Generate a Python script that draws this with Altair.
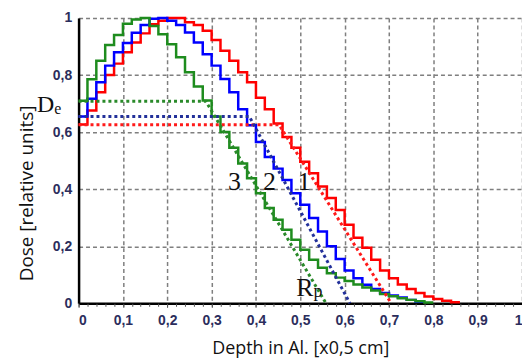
import altair as alt
import pandas as pd

# ---------------- data ----------------
STEP = 0.02  # histogram bin width (depth units)

# curve 1 (red), 2 (blue), 3 (green): dose per depth bin starting at 0
red_dose = [0.627, 0.676, 0.74, 0.80, 0.84, 0.88, 0.914, 0.946, 0.978, 0.99,
            1.0, 1.0, 0.985, 0.975, 0.955, 0.923, 0.885, 0.85, 0.81, 0.775,
            0.72, 0.68, 0.63, 0.583, 0.545, 0.496, 0.456, 0.409, 0.369, 0.327,
            0.275, 0.23, 0.195, 0.153, 0.115, 0.088, 0.066, 0.05, 0.036, 0.024,
            0.015, 0.009, 0.004]
blue_dose = [0.655, 0.717, 0.775, 0.833, 0.88, 0.912, 0.948, 0.975, 0.997, 1.0,
             0.99, 0.975, 0.949, 0.914, 0.873, 0.833, 0.786, 0.74, 0.68, 0.624,
             0.565, 0.513, 0.472, 0.432, 0.386, 0.345, 0.299, 0.252, 0.20, 0.155,
             0.115, 0.088, 0.065, 0.05, 0.036, 0.027, 0.02, 0.012, 0.005]
green_dose = [0.71, 0.785, 0.85, 0.905, 0.94, 0.98, 0.995, 1.0, 0.972, 0.943,
              0.908, 0.862, 0.81, 0.76, 0.711, 0.655, 0.60, 0.545, 0.49, 0.438,
              0.386, 0.334, 0.293, 0.258, 0.223, 0.188, 0.153, 0.125, 0.105, 0.09,
              0.078, 0.066, 0.055, 0.045, 0.033, 0.025, 0.018, 0.012, 0.007, 0.003]

curve_names = ["1", "2", "3"]
curve_colors = ["#ff0000", "#0000ff", "#1e8c1e"]
tangent_colors = ["#ff1a1a", "#22309a", "#2a8a2a"]
de_level = [0.626, 0.655, 0.708]      # horizontal dotted level (De)
knee_depth = [0.452, 0.385, 0.287]    # where the dotted tangent starts
rp_depth = [0.705, 0.612, 0.558]      # where the tangent reaches zero (Rp)

x_major = [0, 0.1, 0.2, 0.3, 0.4, 0.5, 0.6, 0.7, 0.8, 0.9, 1.0]
x_minor = [round(i * 0.02, 2) for i in range(51)]
y_ticks = [0, 0.2, 0.4, 0.6, 0.8, 1.0]

ann_text = ["3", "2", "1", "R", "p", "D", "e"]
ann_x = [0.337, 0.416, 0.494, 0.491, 0.530, -0.094, -0.055]
ann_y = [0.397, 0.397, 0.397, 0.024, 0.022, 0.669, 0.665]
ann_size = [26, 26, 26, 26, 18, 24, 16]

# ---------------- tables ----------------
solid_rows = []
for name, color, vals in zip(curve_names, curve_colors, [red_dose, blue_dose, green_dose]):
    for i, v in enumerate(vals):
        solid_rows.append({"depth": round(i * STEP, 4), "dose": v, "curve": name, "color": color})
    solid_rows.append({"depth": round(len(vals) * STEP, 4), "dose": vals[-1], "curve": name, "color": color})
solid = pd.DataFrame(solid_rows)

dot_rows = []
for name, color, de, kx, rp in zip(curve_names, tangent_colors, de_level, knee_depth, rp_depth):
    dot_rows += [
        {"depth": 0.0, "dose": de, "curve": name, "color": color, "o": 0},
        {"depth": kx, "dose": de, "curve": name, "color": color, "o": 1},
        {"depth": rp, "dose": 0.0, "curve": name, "color": color, "o": 2},
    ]
dots = pd.DataFrame(dot_rows)

ann = pd.DataFrame({"t": ann_text, "x": ann_x, "y": ann_y, "s": ann_size})
minor_df = pd.DataFrame({"depth": x_minor})

xscale = alt.Scale(domain=[0, 1], nice=False, zero=False)
yscale = alt.Scale(domain=[0, 1], nice=False, zero=False)

x_enc = alt.X(
    "depth:Q",
    scale=xscale,
    axis=alt.Axis(
        values=x_major,
        title="Depth in Al. [x0,5 cm]",
        labelExpr="replace(format(datum.value, '.1~f'), '.', ',')",
        labelOverlap=False,
        labelFlush=True,
        tickSize=4,
        tickColor="#444444",
        labelPadding=6,
        titleY=45,
        titleBaseline="middle",
        orient="bottom",
    ),
)
y_enc = alt.Y(
    "dose:Q",
    scale=yscale,
    axis=alt.Axis(
        values=y_ticks,
        title="Dose [relative units]",
        labelExpr="replace(format(datum.value, '.1~f'), '.', ',')",
        ticks=False,
        labelPadding=7,
        titleX=-52,
        titleY=176,
        titleBaseline="middle",
        titleAlign="center",
        titleFontSize=19,
    ),
)

steps = alt.Chart(solid).mark_line(interpolate="step-after", strokeWidth=2.5).encode(
    x=x_enc, y=y_enc, color=alt.Color("color:N", scale=None), detail="curve:N"
)
minor_ticks = alt.Chart(minor_df).mark_point(opacity=0).encode(
    x=alt.X("depth:Q", scale=xscale, axis=alt.Axis(
        orient="bottom", values=x_minor, labels=False, grid=False, domain=False,
        ticks=True, tickSize=3, tickColor="#555555", title=None)),
    y=alt.value(0),
)
tangents = alt.Chart(dots).mark_line(strokeWidth=3, strokeDash=[3, 3]).encode(
    x=alt.X("depth:Q", axis=None), y="dose:Q",
    color=alt.Color("color:N", scale=None), detail="curve:N", order="o:Q",
)
labels = alt.Chart(ann).mark_text(
    font="Liberation Serif", align="left", baseline="alphabetic", color="#111111"
).encode(x=alt.X("x:Q", axis=None), y="y:Q", text="t:N", size=alt.Size("s:Q", scale=None))

chart = alt.layer(steps, minor_ticks, tangents, labels).resolve_axis(x="independent").properties(
    width=446, height=287,
    padding={"left": 71, "top": 9, "right": 0, "bottom": 56},
    autosize=alt.AutoSizeParams(type="none"),
).configure_view(strokeWidth=0).configure_axis(
    labelFont="Liberation Sans",
    labelFontSize=14,
    labelFontWeight="bold",
    labelColor="#2b2d5c",
    titleFont="Open Sans",
    titleFontSize=18,
    titleFontWeight="normal",
    titleColor="#111111",
    domainColor="#000000",
    domainWidth=2.5,
    gridColor="#7f7f7f",
    gridDash=[4, 3],
    gridWidth=1.5,
)

chart.save("out.html", embed_options={"renderer": "svg", "actions": False})
